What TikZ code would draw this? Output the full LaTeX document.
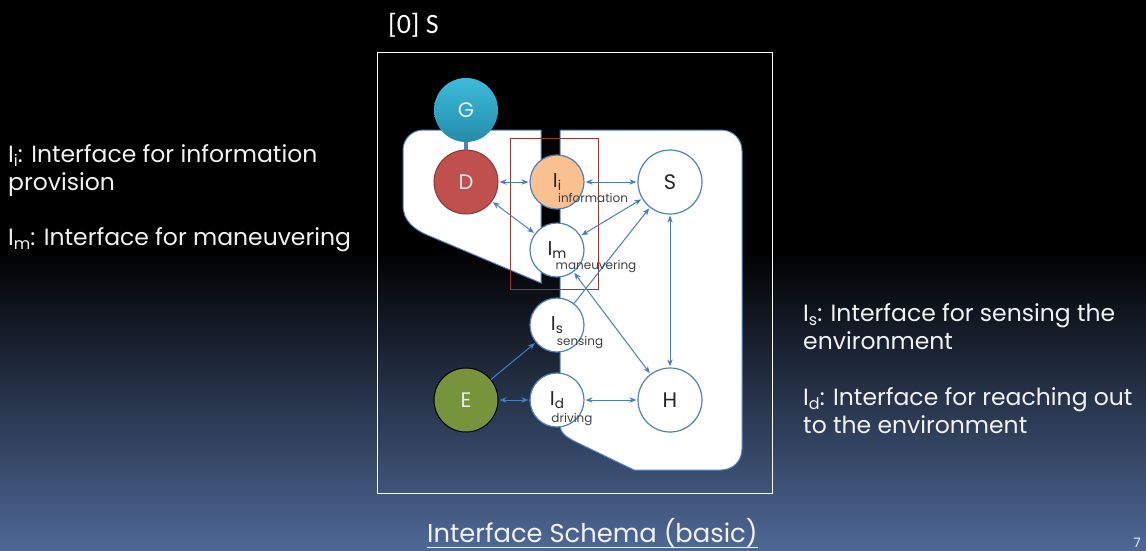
\documentclass[tikz,border=0pt]{standalone}
\usepackage{fontspec}
\setmainfont{Poppins}
\newfontfamily\bracketfont{Carlito}
\usetikzlibrary{arrows.meta}

\definecolor{bgbot}{RGB}{78,104,150}
\definecolor{linkblue}{RGB}{74,126,187}
\definecolor{ringblue}{RGB}{79,129,189}
\definecolor{boxred}{RGB}{149,55,53}
\definecolor{dred}{RGB}{192,80,77}
\definecolor{dredb}{RGB}{140,56,54}
\definecolor{gtop}{RGB}{60,188,218}
\definecolor{gbot}{RGB}{36,140,170}
\definecolor{egreen}{RGB}{119,147,60}
\definecolor{peach}{RGB}{250,192,144}
\definecolor{inktext}{RGB}{38,38,38}
\definecolor{smallink}{RGB}{64,64,64}
\definecolor{sidetext}{RGB}{242,242,242}

% lowered small index letter after an I
\newcommand\lowidx[1]{\raisebox{-0.18em}{\scalebox{0.68}{#1}}}

\tikzset{
  bigc/.style={circle, minimum size=64, inner sep=0pt, font=\fontsize{21}{21}\selectfont},
  smallc/.style={circle, minimum size=54, inner sep=0pt, font=\fontsize{20}{20}\selectfont,
                 draw=ringblue, line width=1.2, fill=white, text=inktext},
  ringc/.style={bigc, draw=ringblue, line width=1.2, fill=white, text=inktext},
  link/.style={draw=linkblue, line width=1,
               {Stealth[length=7pt,width=5.5pt]}-{Stealth[length=7pt,width=5.5pt]},
               shorten <=1pt, shorten >=1pt},
  onelink/.style={draw=linkblue, line width=1, -{Stealth[length=7pt,width=5.5pt]},
               shorten >=1pt},
  tag/.style={font=\fontsize{12}{12}\selectfont, text=smallink, inner sep=0pt},
  side/.style={font=\fontsize{23.5}{28}\selectfont, text=sidetext, align=left, inner sep=0pt},
}

\begin{document}
\begin{tikzpicture}[x=1pt,y=-1pt]
\useasboundingbox (0,0) rectangle (1146,550);

% slide background
\fill[black] (0,0) rectangle (1146,250);
\shade[top color=black, bottom color=bgbot] (0,249) rectangle (1146,550);

% title above the frame
\node[anchor=base west, inner sep=0pt, text=white, font=\bracketfont\fontsize{28}{28}\selectfont]
  (title) at (388,33) {[0] S};

% frame
\draw[white, line width=1] (377,52) rectangle (772,493);

% system area (two white pieces split by the interface gap)
\filldraw[fill=white, draw=ringblue, line width=1]
  (541,130) -- (423,130) .. controls (412,130) and (403,139) .. (403,150)
  -- (403,205) .. controls (403,221) and (414,230) .. (432,237) -- (541,283) -- cycle;
\filldraw[fill=white, draw=ringblue, line width=1]
  (560,130) -- (721,130) .. controls (733,130) and (742,139) .. (742,151)
  -- (742,449) .. controls (742,461) and (733,470) .. (721,470)
  -- (634,470) -- (576,442) .. controls (566,437) and (560,433) .. (560,424) -- cycle;

% interface boundary box
\draw[boxred, line width=1] (510,138) rectangle (598,289);

% nodes
\node[bigc, top color=gtop, bottom color=gbot, text=white!92!black] (G) at (466,110) {G};
\node[bigc, fill=dred, draw=dredb, line width=1, text=white!92!black] (D) at (466,182) {D};
\node[smallc, fill=peach] (Ii) at (557,182) {I\lowidx{i}};
\node[ringc] (S) at (670,182) {S};
\node[smallc] (Im) at (557,250) {I\lowidx{m}};
\node[smallc] (Is) at (557,325) {I\lowidx{s}};
\node[smallc] (Id) at (557,400) {I\lowidx{d}};
\node[bigc, fill=egreen, draw=black, line width=1, text=white!92!black] (E) at (466,400) {E};
\node[ringc] (H) at (670,400) {H};

% connectors
\draw[ringblue, line width=4.5] (G.south) -- (D.north);
\draw[link] (D) -- (Ii);
\draw[link] (Ii) -- (S);
\draw[link] (D) -- (Im);
\draw[link] (S) -- (Im);
\draw[onelink] (Is) -- (S);
\draw[link] (Im) -- (H);
\draw[link] (S) -- (H);
\draw[onelink] (E) -- (Is);
\draw[link] (E) -- (Id);
\draw[link] (Id) -- (H);

% interface names
\node[tag] (tinfo) at (593,198) {information};
\node[tag] (tman) at (596,267) {maneuvering};
\node[tag] (tsens) at (580,343) {sensing};
\node[tag] (tdrv) at (572,420) {driving};

% legends (multi-line nodes sit on the baseline of their last line)
\node[side, anchor=base west] (leftlegend) at (8,190)
  {I\lowidx{i}: Interface for information\\provision};
\node[side, anchor=base west] (leftlegend2) at (8,245)
  {I\lowidx{m}: Interface for maneuvering};
\node[side, anchor=base west] (rightlegend) at (803,349)
  {I\lowidx{s}: Interface for sensing the\\environment};
\node[side, anchor=base west] (rightlegend2) at (803,433)
  {I\lowidx{d}: Interface for reaching out\\to the environment};

% caption
\node[anchor=base west, inner sep=0pt, text=sidetext, font=\fontsize{25.8}{26}\selectfont]
  (caption) at (427,542) {Interface Schema (basic)};
\draw[sidetext, line width=1.2] ([yshift=-5.5pt]caption.base west) -- ([yshift=-5.5pt]caption.base east);

% page number
\node[anchor=base east, inner sep=0pt, text=sidetext, font=\fontsize{13}{13}\selectfont]
  (pageno) at (1141,547) {7};
\end{tikzpicture}
\end{document}
